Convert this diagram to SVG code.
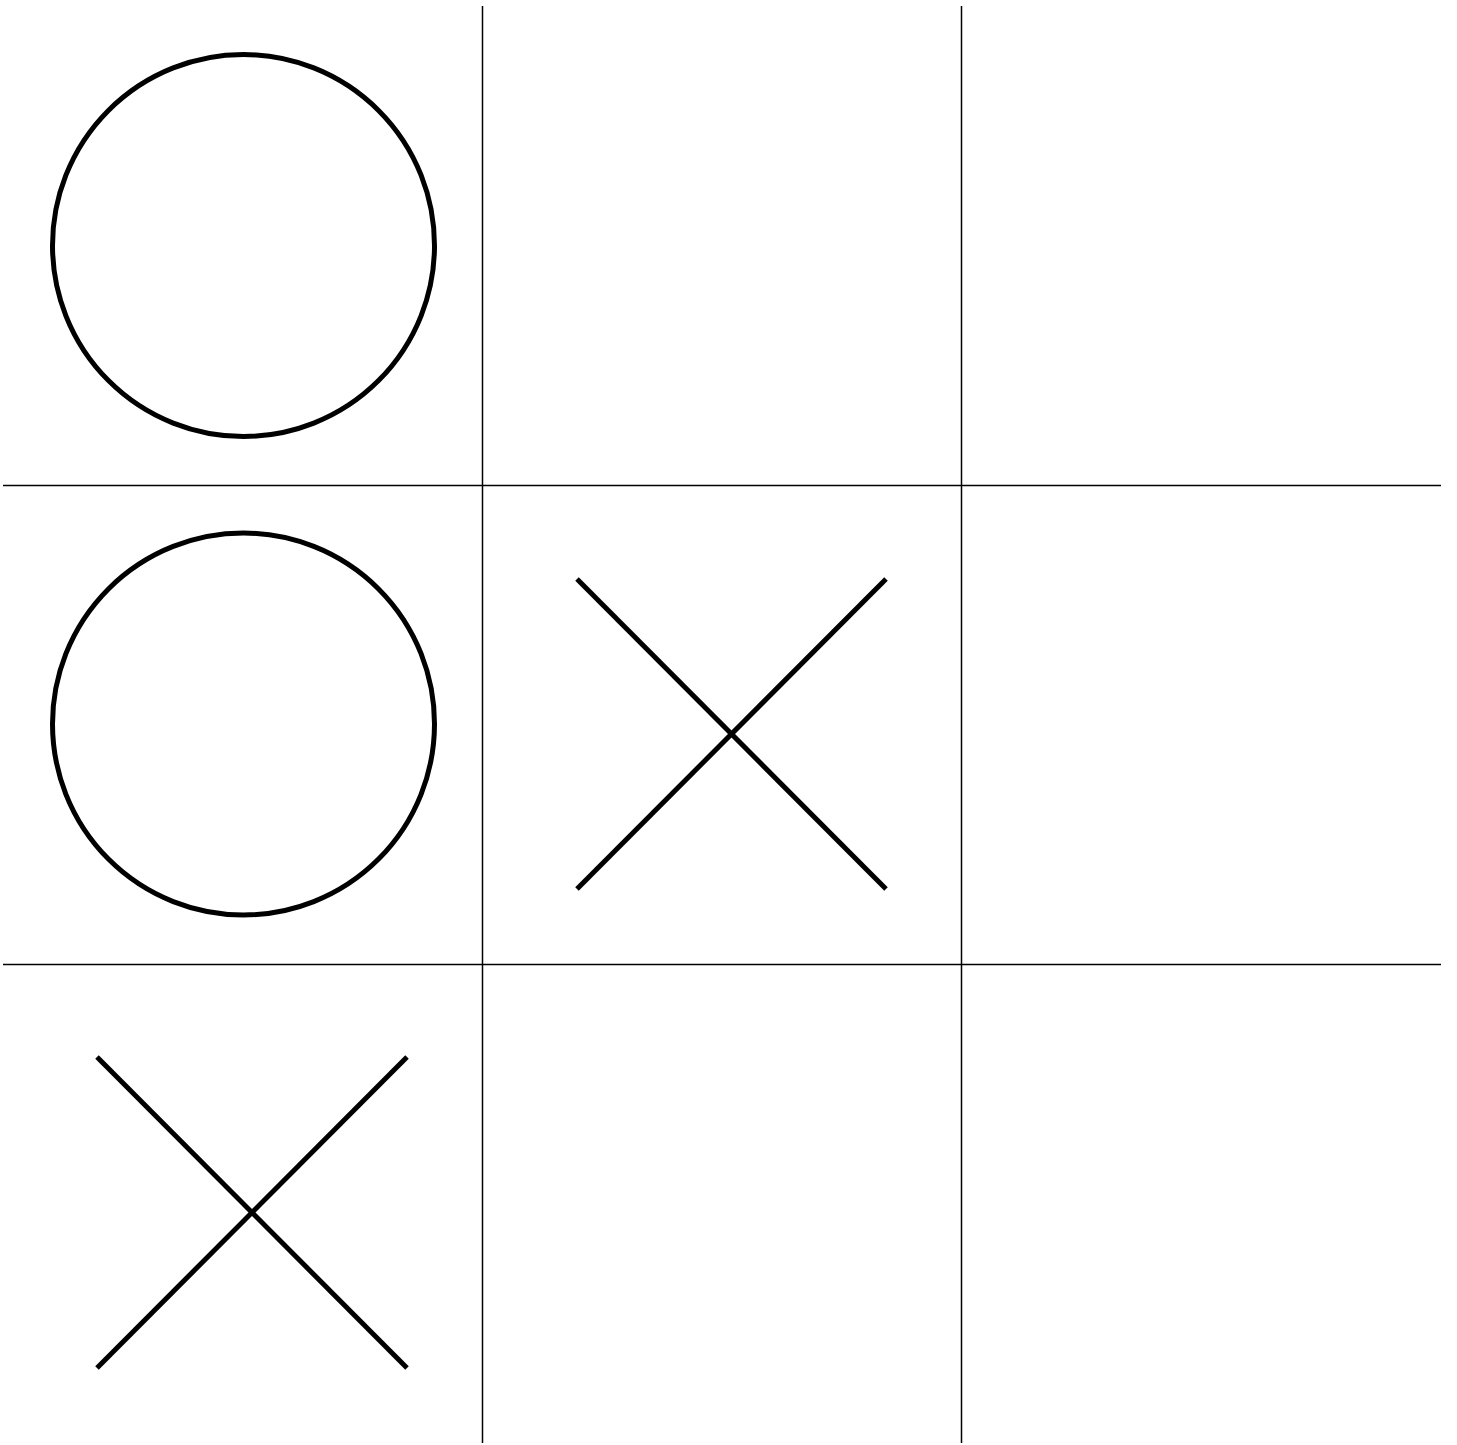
<svg xmlns="http://www.w3.org/2000/svg" width="1457" height="1445" viewBox="0 0 1457 1445">
<style>
.grid{stroke:#000;stroke-width:1.5;fill:none}
.mark{stroke:#000;stroke-width:5;fill:none}
</style>
<rect width="1457" height="1445" fill="#fff"/>
<g id="grid">
<line class="grid" x1="482.5" y1="6" x2="482.5" y2="1443"/>
<line class="grid" x1="961.5" y1="6" x2="961.5" y2="1443"/>
<line class="grid" x1="3" y1="485.5" x2="1441" y2="485.5"/>
<line class="grid" x1="3" y1="964.5" x2="1441" y2="964.5"/>
</g>
<g id="o1"><circle class="mark" cx="243.5" cy="245.5" r="191"/></g>
<g id="o2"><circle class="mark" cx="243.5" cy="724" r="191"/></g>
<g id="x1">
<line class="mark" x1="577" y1="579" x2="886" y2="889"/>
<line class="mark" x1="886" y1="579" x2="577" y2="889"/>
</g>
<g id="x2">
<line class="mark" x1="97" y1="1057" x2="407" y2="1368"/>
<line class="mark" x1="407" y1="1057" x2="97" y2="1368"/>
</g>
</svg>
